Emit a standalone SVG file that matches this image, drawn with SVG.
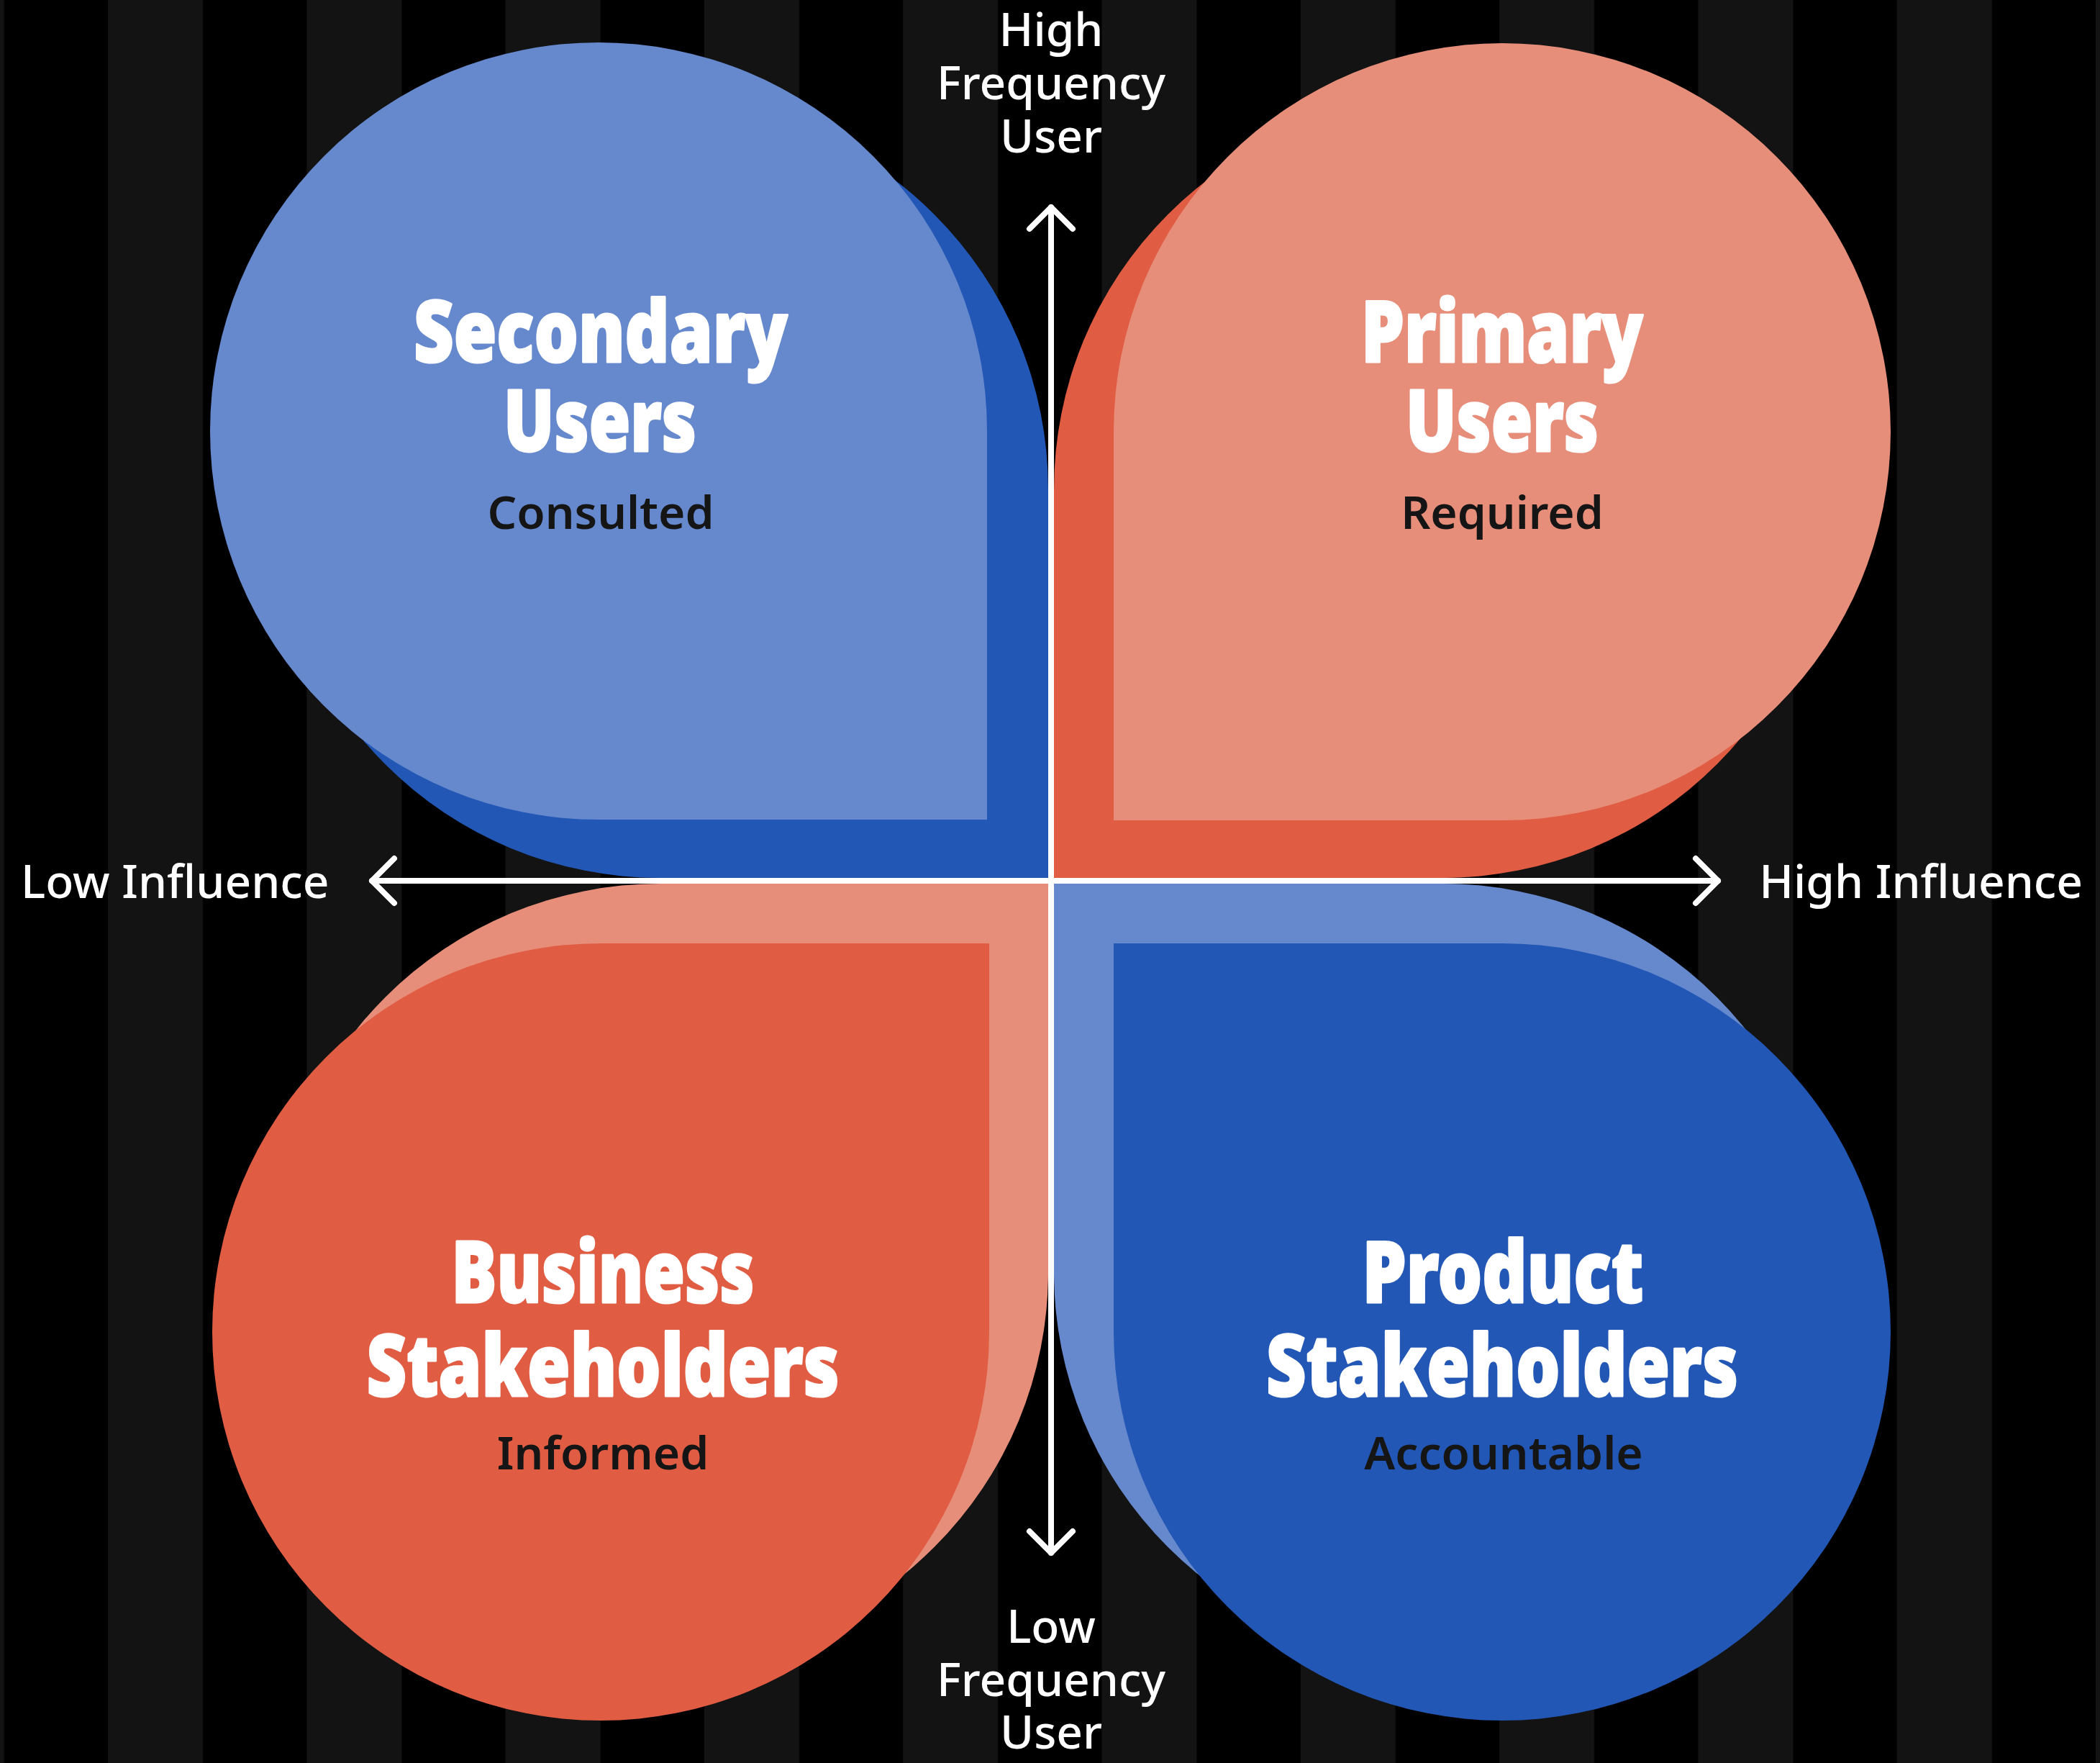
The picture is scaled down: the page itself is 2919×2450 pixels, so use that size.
<svg xmlns="http://www.w3.org/2000/svg" width="2919" height="2450" viewBox="0 0 2919 2450">
  <style>
    .axis-label { font-family: "Noto Sans", "Open Sans", sans-serif; font-size: 64px; font-weight: 500; fill: #ffffff; }
    .title { font-family: "Noto Sans", "Open Sans", sans-serif; font-size: 118px; font-weight: 900; fill: #ffffff; stroke: #ffffff; stroke-width: 3; stroke-linejoin: round; text-anchor: middle; }
    .role { font-family: "Noto Sans", "Open Sans", sans-serif; font-size: 64px; font-weight: 600; fill: #151515; text-anchor: middle; }
    .axis { stroke: #ffffff; stroke-width: 8; fill: none; stroke-linecap: round; stroke-linejoin: round; }
    .blue-dark { fill: #2257b5; }
    .blue-light { fill: #6689cd; }
    .red-dark { fill: #e05d44; }
    .red-light { fill: #e78e7b; }
  </style>
  <defs>
    <pattern id="stripes" x="150" y="0" width="276.3" height="2450" patternUnits="userSpaceOnUse">
      <rect x="0" y="0" width="132" height="2450" fill="#131313"/>
    </pattern>
    <!-- three-quarter disc with a square corner toward the lower right, centred on the origin -->
    <path id="petal" d="M540,0 L540,540 L0,540 A540,540 0 1 1 540,0 Z"/>
  </defs>

  <!-- background -->
  <rect x="0" y="0" width="2919" height="2450" fill="#000000"/>
  <rect x="0" y="0" width="2919" height="2450" fill="url(#stripes)"/>

  <!-- top left: Secondary Users -->
  <g id="secondary-users">
    <use href="#petal" class="blue-dark" transform="translate(917,680)"/>
    <use href="#petal" class="blue-light" transform="translate(832,599)"/>
    <text class="title" x="835" y="503" textLength="520" lengthAdjust="spacingAndGlyphs">Secondary</text>
    <text class="title" x="834" y="627" textLength="268" lengthAdjust="spacingAndGlyphs">Users</text>
    <text class="role" x="835" y="735">Consulted</text>
  </g>

  <!-- top right: Primary Users -->
  <g id="primary-users">
    <use href="#petal" class="red-dark" transform="translate(2005,680) scale(-1,1)"/>
    <use href="#petal" class="red-light" transform="translate(2088,600) scale(-1,1)"/>
    <text class="title" x="2088" y="503" textLength="392" lengthAdjust="spacingAndGlyphs">Primary</text>
    <text class="title" x="2088" y="627" textLength="268" lengthAdjust="spacingAndGlyphs">Users</text>
    <text class="role" x="2088" y="735">Required</text>
  </g>

  <!-- bottom left: Business Stakeholders -->
  <g id="business-stakeholders">
    <use href="#petal" class="red-light" transform="translate(917,1768) scale(1,-1)"/>
    <use href="#petal" class="red-dark" transform="translate(835,1851) scale(1,-1)"/>
    <text class="title" x="838" y="1810" textLength="421" lengthAdjust="spacingAndGlyphs">Business</text>
    <text class="title" x="838" y="1940" textLength="657" lengthAdjust="spacingAndGlyphs">Stakeholders</text>
    <text class="role" x="838" y="2042">Informed</text>
  </g>

  <!-- bottom right: Product Stakeholders -->
  <g id="product-stakeholders">
    <use href="#petal" class="blue-light" transform="translate(2005,1768) scale(-1,-1)"/>
    <use href="#petal" class="blue-dark" transform="translate(2088,1851) scale(-1,-1)"/>
    <text class="title" x="2089" y="1810" textLength="391" lengthAdjust="spacingAndGlyphs">Product</text>
    <text class="title" x="2088" y="1940" textLength="656" lengthAdjust="spacingAndGlyphs">Stakeholders</text>
    <text class="role" x="2090" y="2042">Accountable</text>
  </g>

  <!-- axes -->
  <g id="axes">
    <path class="axis" d="M517,1224 L2388,1224"/>
    <path class="axis" d="M548,1193 L517,1224 L548,1255"/>
    <path class="axis" d="M2357,1193 L2388,1224 L2357,1255"/>
    <path class="axis" d="M1461,288 L1461,2158"/>
    <path class="axis" d="M1431,318 L1461,288 L1491,318"/>
    <path class="axis" d="M1431,2128 L1461,2158 L1491,2128"/>
  </g>

  <!-- axis labels -->
  <g id="axis-labels">
    <text class="axis-label" x="1461" y="64" text-anchor="middle">High</text>
    <text class="axis-label" x="1461" y="138" text-anchor="middle">Frequency</text>
    <text class="axis-label" x="1461" y="212" text-anchor="middle">User</text>
    <text class="axis-label" x="1461" y="2283" text-anchor="middle">Low</text>
    <text class="axis-label" x="1461" y="2357" text-anchor="middle">Frequency</text>
    <text class="axis-label" x="1461" y="2430" text-anchor="middle">User</text>
    <text class="axis-label" x="29" y="1248">Low Influence</text>
    <text class="axis-label" x="2895" y="1248" text-anchor="end">High Influence</text>
  </g>
</svg>
